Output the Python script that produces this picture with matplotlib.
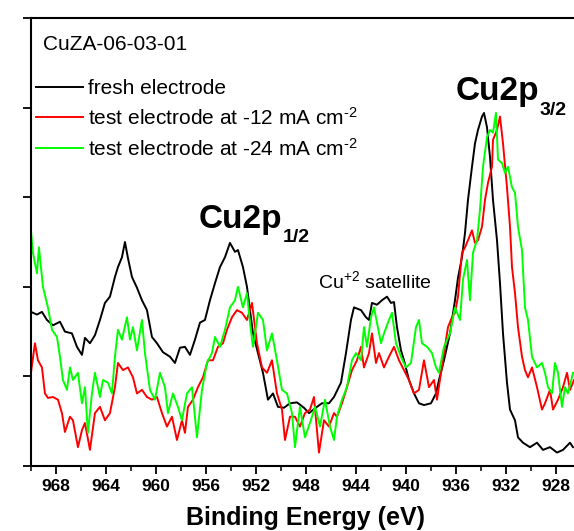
import matplotlib
matplotlib.use("Agg")
import matplotlib.pyplot as plt
from matplotlib.ticker import MultipleLocator

plt.rcParams['font.family'] = ['Liberation Sans', 'DejaVu Sans']
plt.rcParams['mathtext.fontset'] = 'custom'
plt.rcParams['mathtext.rm'] = 'Liberation Sans'
plt.rcParams['mathtext.it'] = 'Liberation Sans:italic'
plt.rcParams['mathtext.bf'] = 'Liberation Sans:bold'

# ---------------- data (binding energy in eV, intensity in a.u.) ----------------
fresh_energy = [969.98, 969.50, 969.10, 968.70, 968.22, 967.66, 967.26, 966.70, 966.30, 965.90,
                965.66, 965.26, 964.86, 964.46, 964.06, 963.66, 963.26, 963.02, 962.70, 962.46,
                962.22, 961.90, 961.50, 961.10, 960.70, 960.30, 959.90, 959.42, 958.86, 958.46,
                958.06, 957.66, 957.26, 956.86, 956.46, 956.06, 955.66, 955.26, 954.86, 954.46,
                954.06, 953.66, 953.42, 953.02, 952.70, 952.46, 952.22, 951.82, 951.42, 951.02,
                950.62, 950.22, 949.74, 949.26, 948.70, 948.14, 947.74, 947.10, 946.70, 946.14,
                945.74, 945.18, 944.78, 944.38, 944.14, 943.58, 943.18, 942.94, 942.70, 942.30,
                941.90, 941.50, 941.18, 940.94, 940.70, 940.38, 940.14, 939.74, 939.34, 938.94,
                938.54, 937.98, 937.58, 937.34, 936.94, 936.46, 936.06, 935.82, 935.50, 935.26,
                935.02, 934.70, 934.46, 934.22, 933.90, 933.74, 933.50, 933.26, 933.02, 932.70,
                932.46, 932.22, 931.90, 931.66, 931.26, 931.02, 930.62, 930.06, 929.50, 929.02,
                928.46, 927.90, 927.42, 926.86, 926.62]
fresh_intensity = [1.72, 1.69, 1.72, 1.63, 1.57, 1.61, 1.50, 1.48, 1.33, 1.24,
                   1.43, 1.37, 1.46, 1.63, 1.82, 1.89, 2.11, 2.22, 2.33, 2.50,
                   2.32, 2.11, 1.99, 1.85, 1.74, 1.44, 1.37, 1.27, 1.22, 1.15,
                   1.32, 1.33, 1.24, 1.41, 1.60, 1.63, 1.85, 2.04, 2.22, 2.33,
                   2.49, 2.39, 2.41, 2.22, 2.00, 1.74, 1.48, 1.26, 1.04, 0.74,
                   0.81, 0.66, 0.65, 0.70, 0.71, 0.65, 0.59, 0.66, 0.70, 0.70,
                   0.77, 0.93, 1.26, 1.63, 1.77, 1.74, 1.66, 1.63, 1.82, 1.80,
                   1.85, 1.89, 1.82, 1.83, 1.55, 1.29, 1.18, 0.96, 0.81, 0.70,
                   0.68, 0.70, 0.81, 0.96, 1.18, 1.48, 1.85, 2.10, 2.33, 2.60,
                   2.97, 3.34, 3.60, 3.75, 3.90, 3.94, 3.78, 3.45, 2.97, 2.52,
                   2.04, 1.48, 0.93, 0.63, 0.51, 0.32, 0.26, 0.21, 0.26, 0.18,
                   0.21, 0.15, 0.18, 0.26, 0.21]

test12_energy = [969.98, 969.66, 969.42, 969.10, 968.86, 968.62, 968.22, 967.82, 967.50, 967.26,
                 966.86, 966.62, 966.22, 965.90, 965.66, 965.26, 964.86, 964.46, 964.06, 963.66,
                 963.26, 963.02, 962.62, 962.22, 961.82, 961.50, 961.10, 960.70, 960.30, 959.90,
                 959.50, 959.10, 958.70, 958.30, 957.90, 957.66, 957.42, 957.02, 956.62, 956.22,
                 955.82, 955.42, 955.02, 954.62, 954.30, 953.90, 953.50, 953.10, 952.70, 952.30,
                 951.90, 951.50, 951.10, 950.70, 950.30, 949.90, 949.66, 949.26, 948.86, 948.46,
                 948.06, 947.66, 947.34, 946.94, 946.54, 946.14, 945.74, 945.50, 945.10, 944.70,
                 944.30, 943.90, 943.58, 943.34, 942.94, 942.70, 942.38, 942.14, 941.74, 941.34,
                 940.94, 940.54, 940.14, 939.74, 939.34, 938.94, 938.54, 938.14, 937.74, 937.50,
                 937.18, 936.86, 936.62, 936.30, 936.06, 935.82, 935.50, 935.26, 935.02, 934.70,
                 934.46, 934.22, 933.90, 933.66, 933.42, 933.10, 933.02, 932.70, 932.46, 932.22,
                 931.90, 931.66, 931.50, 931.26, 931.02, 930.70, 930.46, 930.22, 929.90, 929.50,
                 929.10, 928.86, 928.46, 928.22, 927.82, 927.42, 927.10, 926.86, 926.54]
test12_intensity = [1.04, 1.37, 1.18, 1.10, 0.81, 0.76, 0.77, 0.74, 0.59, 0.38,
                    0.55, 0.51, 0.21, 0.40, 0.48, 0.18, 0.59, 0.66, 0.51, 0.59,
                    0.88, 1.15, 1.07, 1.10, 0.99, 0.81, 0.85, 0.77, 0.74, 0.77,
                    0.59, 0.44, 0.55, 0.29, 0.51, 0.37, 0.66, 0.74, 0.88, 0.99,
                    1.18, 1.18, 1.33, 1.37, 1.52, 1.66, 1.74, 1.71, 1.63, 1.82,
                    1.37, 1.10, 1.04, 1.18, 0.81, 0.63, 0.29, 0.55, 0.55, 0.44,
                    0.59, 0.63, 0.77, 0.15, 0.51, 0.44, 0.59, 0.55, 0.70, 0.88,
                    1.07, 1.18, 1.33, 1.10, 1.26, 1.48, 1.15, 1.26, 1.10, 1.22,
                    1.33, 1.18, 1.07, 0.96, 0.81, 0.85, 1.18, 0.88, 0.96, 0.74,
                    1.04, 1.33, 1.55, 1.66, 1.71, 1.89, 2.38, 2.44, 2.52, 2.63,
                    2.49, 2.52, 2.67, 2.97, 3.16, 3.34, 3.64, 3.75, 3.90, 3.60,
                    3.11, 2.67, 2.22, 1.93, 1.55, 1.22, 1.07, 0.99, 1.10, 0.88,
                    0.63, 0.70, 0.85, 0.63, 0.74, 0.88, 1.04, 0.85, 0.96]

test24_energy = [969.98, 969.82, 969.50, 969.34, 969.02, 968.62, 968.30, 967.90, 967.66, 967.42,
                 967.10, 966.86, 966.62, 966.22, 965.90, 965.66, 965.42, 965.10, 964.86, 964.46,
                 964.22, 963.82, 963.50, 963.26, 963.02, 962.70, 962.30, 962.06, 961.82, 961.50,
                 961.10, 960.86, 960.46, 960.06, 959.66, 959.26, 959.02, 958.62, 958.22, 957.90,
                 957.50, 957.10, 956.70, 956.30, 955.90, 955.50, 955.26, 954.86, 954.46, 954.06,
                 953.66, 953.42, 953.02, 952.70, 952.46, 952.22, 951.82, 951.42, 951.10, 950.70,
                 950.30, 949.90, 949.50, 949.10, 948.86, 948.46, 948.06, 947.66, 947.26, 946.86,
                 946.46, 946.06, 945.74, 945.50, 945.10, 944.70, 944.30, 943.98, 943.58, 943.34,
                 943.10, 942.78, 942.54, 942.30, 941.98, 941.74, 941.34, 941.10, 940.78, 940.38,
                 939.98, 939.58, 939.18, 938.94, 938.70, 938.30, 937.90, 937.58, 937.34, 936.94,
                 936.46, 936.06, 935.66, 935.42, 935.10, 934.86, 934.62, 934.30, 934.06, 933.82,
                 933.50, 933.26, 933.02, 932.78, 932.62, 932.30, 932.06, 931.82, 931.50, 931.26,
                 931.02, 930.70, 930.46, 930.22, 929.90, 929.50, 929.10, 928.86, 928.62, 928.30,
                 928.06, 927.82, 927.50, 927.26, 927.02, 926.62]
test24_intensity = [2.63, 2.38, 2.15, 2.44, 2.00, 1.77, 1.52, 1.44, 1.22, 0.96,
                    0.85, 1.10, 0.96, 1.04, 0.70, 0.88, 0.37, 0.81, 1.04, 0.77,
                    0.96, 0.93, 0.81, 1.22, 1.52, 1.41, 1.66, 1.41, 1.55, 1.29,
                    1.63, 1.26, 0.85, 0.74, 1.04, 0.88, 0.59, 0.81, 0.66, 0.51,
                    0.81, 0.88, 0.32, 0.85, 1.15, 1.26, 1.44, 1.33, 1.52, 1.77,
                    1.85, 2.00, 1.77, 1.93, 1.60, 1.33, 1.71, 1.63, 1.29, 1.48,
                    1.18, 0.85, 0.81, 0.59, 0.21, 0.66, 0.32, 0.48, 0.66, 0.44,
                    0.74, 0.44, 0.29, 0.55, 0.74, 0.88, 1.18, 1.26, 1.18, 1.55,
                    1.33, 1.66, 1.77, 1.60, 1.37, 1.48, 1.63, 1.71, 1.37, 1.22,
                    1.10, 1.15, 1.55, 1.63, 1.37, 1.33, 1.26, 1.10, 1.04, 1.33,
                    1.48, 1.77, 1.63, 2.08, 2.30, 1.85, 2.38, 2.52, 2.86, 3.34,
                    3.67, 3.75, 3.72, 3.94, 3.42, 3.38, 3.27, 3.34, 3.11, 3.05,
                    2.67, 2.41, 1.77, 1.63, 1.22, 1.10, 1.15, 1.04, 0.88, 0.81,
                    1.15, 1.04, 0.66, 0.88, 0.81, 1.04]

series_labels = ["fresh electrode",
                 "test electrode at -12 mA cm$^{\u2010 2}$",
                 "test electrode at -24 mA cm$^{\u2010 2}$"]
series_colors = ["#000000", "#ff0000", "#00ff00"]
x_ticks = [968, 964, 960, 956, 952, 948, 944, 940, 936, 932, 928]

assert len(fresh_energy) == len(fresh_intensity)
assert len(test12_energy) == len(test12_intensity)
assert len(test24_energy) == len(test24_intensity)

# ---------------- figure ----------------
fig = plt.figure(figsize=(5.74, 5.31), dpi=100)
ax = fig.add_axes([30.7 / 574, 65 / 531, 543.3 / 574, 448 / 531])

for e, i, lab, col in zip([fresh_energy, test12_energy, test24_energy],
                          [fresh_intensity, test12_intensity, test24_intensity],
                          series_labels, series_colors):
    ax.plot(e, i, color=col, lw=1.4, label=lab)

ax.set_xlim(970.0, 926.54)
ax.set_ylim(0, 5)
ax.set_xticks(x_ticks)
ax.xaxis.set_minor_locator(MultipleLocator(2))
ax.yaxis.set_major_locator(MultipleLocator(1))
ax.set_yticklabels([])
ax.tick_params(axis='x', which='major', direction='out', length=5.5, width=1.3,
               labelsize=12.5, pad=4)
ax.tick_params(axis='x', which='minor', direction='out', length=3.5, width=1.1)
ax.tick_params(axis='y', which='major', direction='out', length=6, width=1.3)
for lbl in ax.get_xticklabels():
    lbl.set_fontweight('bold')

for side in ['left', 'bottom', 'top']:
    ax.spines[side].set_linewidth(1.5)
ax.spines['right'].set_visible(False)

ax.set_xlabel("Binding Energy (eV)", fontsize=18, fontweight='bold', va='baseline')
ax.xaxis.set_label_coords((305.5 - 30.7) / 543.3, (466 - 525) / 448)

ax.text((43 - 30.7) / 543.3, (466 - 50) / 448, "CuZA-06-03-01", fontsize=15,
        transform=ax.transAxes, ha='left', va='baseline')

leg = ax.legend(loc='upper left', bbox_to_anchor=((36 - 30.7) / 543.3, (466 - 79) / 448),
                frameon=False, fontsize=15, borderpad=0, borderaxespad=0,
                handlelength=2.26, handletextpad=0.24, labelspacing=0.42)

# peak annotations
ax.text((456 - 30.7) / 543.3, (466 - 100) / 448, "Cu2p", fontsize=24, fontweight='bold',
        transform=ax.transAxes, ha='left', va='baseline')
ax.text((540 - 30.7) / 543.3, (466 - 115) / 448, "3/2", fontsize=14, fontweight='bold',
        transform=ax.transAxes, ha='left', va='baseline')
ax.text((199 - 30.7) / 543.3, (466 - 228) / 448, "Cu2p", fontsize=24, fontweight='bold',
        transform=ax.transAxes, ha='left', va='baseline')
ax.text((283 - 30.7) / 543.3, (466 - 242) / 448, "1/2", fontsize=14, fontweight='bold',
        transform=ax.transAxes, ha='left', va='baseline')
ax.text((318 - 30.7) / 543.3, (466 - 288) / 448, "Cu$^{+2}$ satellite", fontsize=14,
        transform=ax.transAxes, ha='left', va='baseline')

fig.savefig("out.png", dpi=100)
